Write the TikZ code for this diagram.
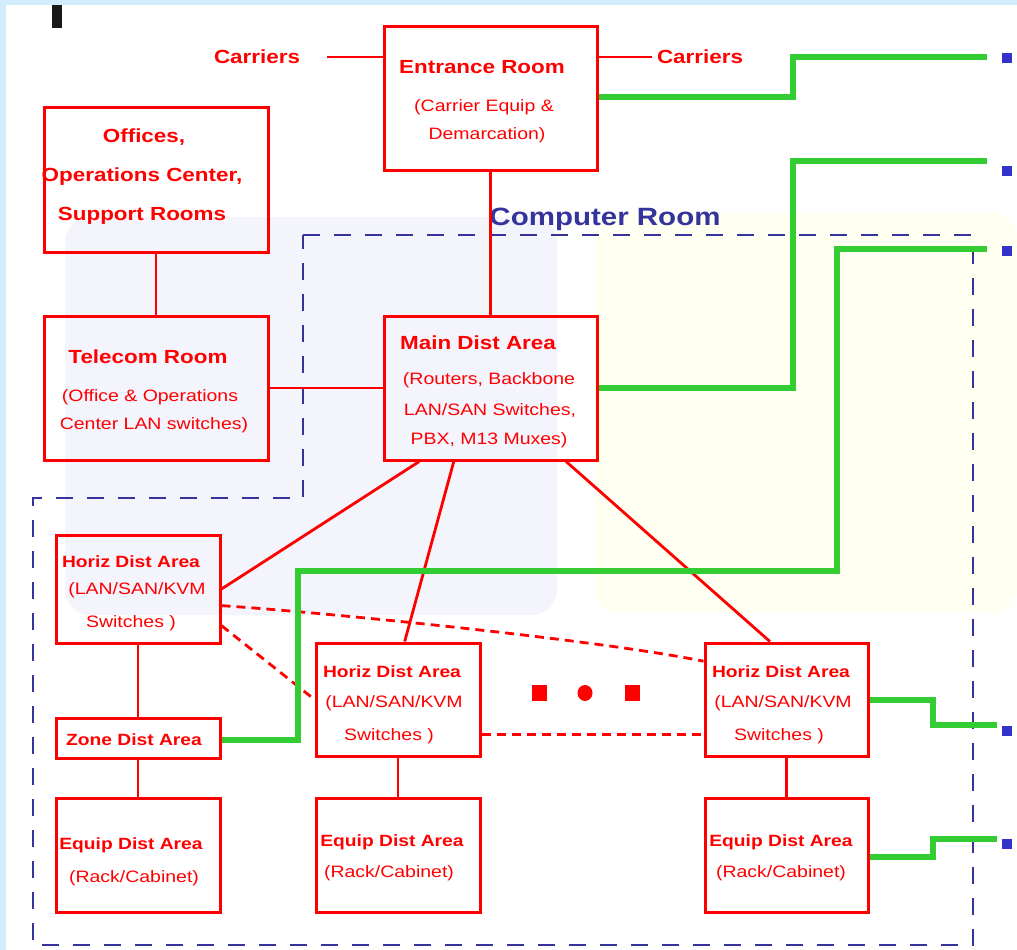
\documentclass[tikz,border=0pt]{standalone}
\usepackage{fontspec}
\setmainfont{Liberation Sans}[FakeStretch=1.18]
\usetikzlibrary{calc}

\definecolor{cfframe}{HTML}{D2ECFC}
\definecolor{cflav}{HTML}{F4F4FD}
\definecolor{cfcream}{HTML}{FFFFF2}
\definecolor{cfblue}{HTML}{34349C}
\definecolor{cfport}{HTML}{3333CC}
\definecolor{cfgreen}{HTML}{33CC33}

\begin{document}
\begin{tikzpicture}[x=1pt, y=-1pt,
		box/.style={draw=red, line width=3pt, inner sep=0pt},
		bigbox/.style={box, minimum width=213pt, minimum height=144pt},
		smallbox/.style={box, minimum width=164pt, minimum height=113pt},
		ttl/.style={text=red, inner sep=0pt, font=\fontsize{19}{22}\selectfont\bfseries},
		sttl/.style={text=red, inner sep=0pt, font=\fontsize{16.3}{19}\selectfont\bfseries},
		sub/.style={text=red, inner sep=0pt, font=\fontsize{16.5}{19}\selectfont},
		link/.style={draw=red, line width=2.8pt},
		spare/.style={link, dash pattern=on 9pt off 6pt},
		fiber/.style={draw=cfgreen, line width=6pt},
		port/.style={fill=cfport, inner sep=0pt, minimum size=10pt},
		room/.style={draw=cfblue, line width=2.8pt, dash pattern=on 17pt off 14pt}]
			\useasboundingbox (0,0) rectangle (1017,950);

			% Page and shaded areas
			\fill[cfframe] (0,0) rectangle (1017,950);
			\fill[white] (6,5) rectangle (1017,950);
			\fill[cflav, rounded corners=25pt] (65,217) rectangle (557,615);
			\fill[cfcream, rounded corners=25pt] (595,213) rectangle (1017,613);
			\fill[black!90] (52,5) rectangle (62,28);

			% Computer room outline
			\draw[room] (303,235) -- (973,235) -- (973,945) -- (33,945) -- (33,498) -- (303,498) -- cycle;
			\node[text=cfblue, font=\fontsize{25}{28}\selectfont\bfseries] (roomlbl) at (605,219) {Computer Room};

			% Entrance room and carriers
			\node[bigbox] (entr) at (490.5,98.5) {};
			\node[ttl] (entrT) at (482,67) {Entrance Room};
			\node[sub] (entrS1) at (484,107) {(Carrier Equip \&};
			\node[sub] (entrS2) at (487,135) {Demarcation)};
			\node[ttl] (carL) at (257,57) {Carriers};
			\node[ttl] (carR) at (700,57) {Carriers};
			\coordinate (carLend) at (327,57);
			\coordinate (carRend) at (652,57);
			\draw[link] (carLend) -- (entr.west |- carLend);
			\draw[link] (entr.east |- carRend) -- (carRend);

			% Offices and telecom room
			\node[box, minimum width=224pt, minimum height=145pt] (off) at (156,179.5) {};
			\node[ttl] (offT1) at (144,137) {Offices,};
			\node[ttl] (offT2) at (142,177) {Operations Center,};
			\node[ttl] (offT3) at (142,216) {Support Rooms};
			\node[box, minimum width=224pt, minimum height=144pt] (tel) at (156,388) {};
			\node[ttl] (telT) at (148,357) {Telecom Room};
			\node[sub] (telS1) at (150,397) {(Office \& Operations};
			\node[sub] (telS2) at (154,425) {Center LAN switches)};

			% Main distribution area
			\node[bigbox] (main) at (490.5,388) {};
			\node[ttl] (mainT) at (478,343) {Main Dist Area};
			\node[sub] (mainS1) at (489,380) {(Routers, Backbone};
			\node[sub] (mainS2) at (490,411) {LAN/SAN Switches,};
			\node[sub] (mainS3) at (489,440) {PBX, M13 Muxes)};

			% Horizontal, zone and equipment areas
			\node[box, minimum width=164pt, minimum height=108pt] (hz1) at (138,589) {};
			\node[sttl] (hz1T) at (131,562) {Horiz Dist Area};
			\node[sub] (hz1S1) at (137,590) {(LAN/SAN/KVM};
			\node[sub] (hz1S2) at (131,623) {Switches )};
			\node[box, minimum width=164pt, minimum height=40pt] (zone) at (138,738) {};
			\node[sttl] (zoneT) at (134,740) {Zone Dist Area};
			\node[box, minimum width=164pt, minimum height=114pt] (eq1) at (138,855) {};
			\node[sttl] (eq1T) at (131,845) {Equip Dist Area};
			\node[sub] (eq1S) at (134,878) {(Rack/Cabinet)};

			\node[smallbox] (hz2) at (398,699.5) {};
			\node[sttl] (hz2T) at (392,672) {Horiz Dist Area};
			\node[sub] (hz2S1) at (394,703) {(LAN/SAN/KVM};
			\node[sub] (hz2S2) at (389,736) {Switches )};
			\node[box, minimum width=164pt, minimum height=114pt] (eq2) at (398,855) {};
			\node[sttl] (eq2T) at (392,842) {Equip Dist Area};
			\node[sub] (eq2S) at (389,873) {(Rack/Cabinet)};

			\node[smallbox, minimum width=163pt] (hz3) at (786.5,699.5) {};
			\node[sttl] (hz3T) at (781,672) {Horiz Dist Area};
			\node[sub] (hz3S1) at (783,703) {(LAN/SAN/KVM};
			\node[sub] (hz3S2) at (779,736) {Switches )};
			\node[box, minimum width=163pt, minimum height=114pt] (eq3) at (786.5,855) {};
			\node[sttl] (eq3T) at (781,842) {Equip Dist Area};
			\node[sub] (eq3S) at (781,873) {(Rack/Cabinet)};

			% Cabling between areas
			\draw[link] (entr.south) -- (main.north);
			\draw[link] (off.south) -- (tel.north);
			\draw[link] (tel.east) -- (main.west);
			\draw[link] ($(main.south west)!0.17!(main.south east)$) -- (hz1.east);
			\draw[link] ($(main.south west)!0.33!(main.south east)$) -- ($(hz2.north west)!0.54!(hz2.north east)$);
			\draw[link] ($(main.south west)!0.85!(main.south east)$) -- ($(hz3.north west)!0.4!(hz3.north east)$);
			\draw[link] (hz1.south) -- (zone.north);
			\draw[link] (zone.south) -- (eq1.north);
			\draw[link] (hz2.south) -- (eq2.north);
			\draw[link] (hz3.south) -- (eq3.north);

			% Optional links between horizontal areas
			\draw[spare] ($(hz1.north east)!0.65!(hz1.south east)$) .. controls (320,612) and (600,640) .. ($(hz3.north west)!0.17!(hz3.south west)$);
			\draw[spare] ($(hz1.north east)!0.83!(hz1.south east)$) -- (hz2.west);
			\draw[spare] ($(hz2.north east)!0.8!(hz2.south east)$) -- ($(hz3.north west)!0.8!(hz3.south west)$);
			\fill[red] (532,685) rectangle (547,701);
			\fill[red] (585,693) ellipse (7.5pt and 8pt);
			\fill[red] (625,685) rectangle (640,701);

			% Green runs to the outside
			\node[port] (port1) at (1007,58) {};
			\node[port] (port2) at (1007,171) {};
			\node[port] (port3) at (1007,251) {};
			\node[port] (port4) at (1007,731) {};
			\node[port] (port5) at (1007,844) {};
			\coordinate (g1) at (987,57);
			\coordinate (g2) at (987,161);
			\coordinate (g3) at (987,249);
			\coordinate (g4) at (997,725);
			\coordinate (g5) at (997,839);
			\draw[fiber] (entr.east |- 0,97) -| (793,57) -- (g1);
			\draw[fiber] (main.east) -| (793,161) -- (g2);
			\draw[fiber] (zone.east |- 0,740) -| (298,571) -| (837,249) -- (g3);
			\draw[fiber] (hz3.east) -| (933,725) -- (g4);
			\draw[fiber] (eq3.east |- 0,857) -| (933,839) -- (g5);
		\end{tikzpicture}
\end{document}
